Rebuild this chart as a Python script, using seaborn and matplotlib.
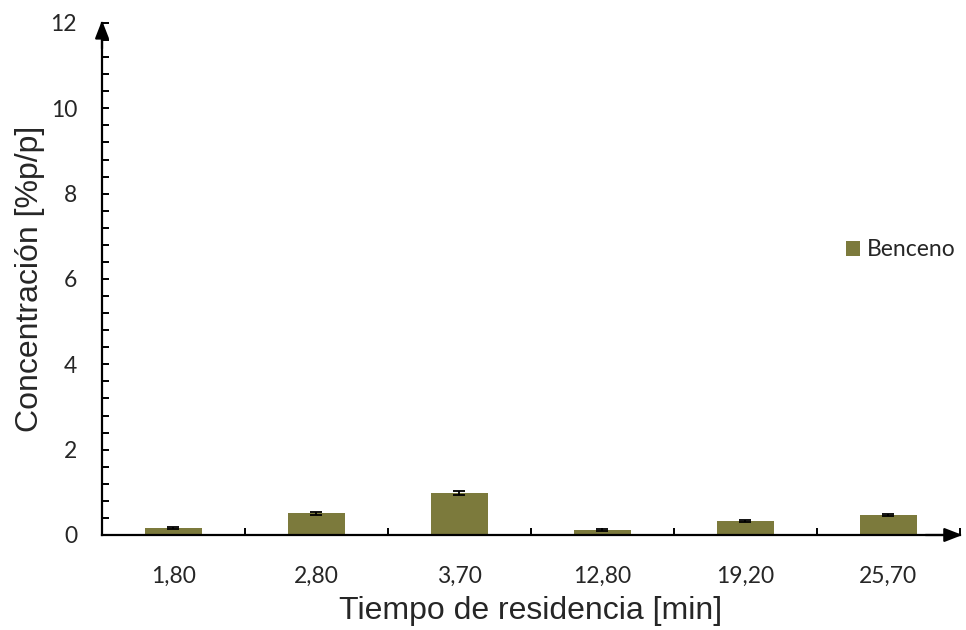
import matplotlib
matplotlib.use("Agg")
import matplotlib.pyplot as plt
from matplotlib.ticker import MultipleLocator, FixedLocator
import seaborn as sns
import pandas as pd
import numpy as np

# Residence times (categories) and benzene concentration with its deviation
tiempos = ["1,80", "2,80", "3,70", "12,80", "19,20", "25,70"]
benceno = [0.17, 0.51, 0.98, 0.11, 0.33, 0.47]
benceno_err = [0.02, 0.03, 0.05, 0.02, 0.02, 0.03]
y_ticks = [0, 2, 4, 6, 8, 10, 12]

color_barra = "#7C7A3C"

sns.set_theme(style="white")
plt.rcParams["font.family"] = ["Lato", "DejaVu Sans"]

df = pd.DataFrame({"Tiempo": tiempos, "Concentracion": benceno})

fig = plt.figure(figsize=(9.66, 6.30), dpi=100)
ax = fig.add_axes([0.1056, 0.1508, 0.888, 0.8127])

sns.barplot(data=df, x="Tiempo", y="Concentracion", color=color_barra,
            width=0.4, saturation=1, errorbar=None, ax=ax,
            label="Benceno", edgecolor="none")

xs = np.arange(len(tiempos))
ax.errorbar(xs, benceno, yerr=benceno_err, fmt="none", ecolor="black",
            elinewidth=1.3, capsize=4.3, capthick=1.3, zorder=5)

ax.set_xlim(-0.5, len(tiempos) - 0.5)
ax.set_ylim(0, 12)
ax.yaxis.set_major_locator(FixedLocator(y_ticks))
ax.yaxis.set_minor_locator(MultipleLocator(0.4))
ax.xaxis.set_minor_locator(FixedLocator(np.arange(-0.5, len(tiempos), 1.0)))

for s in ["top", "right"]:
    ax.spines[s].set_visible(False)
for s in ["left", "bottom"]:
    ax.spines[s].set_linewidth(1.6)
    ax.spines[s].set_color("black")

ax.tick_params(axis="y", which="both", direction="in", length=5, width=1.4,
               color="black", left=True, labelsize=16.5, pad=18)
ax.tick_params(axis="x", which="both", direction="in", length=5, width=1.4,
               color="black", bottom=True, labelsize=16.5, pad=22)

ax.set_xlabel("Tiempo de residencia [min]", fontsize=23,
              family=["Liberation Sans", "DejaVu Sans"], labelpad=7)
ax.set_ylabel("Concentración [%p/p]", fontsize=23,
              family=["Liberation Sans", "DejaVu Sans"], labelpad=4)

# Axis arrows
arrow = dict(arrowstyle="-|>,head_length=0.9,head_width=0.35", color="black",
             lw=1.6, shrinkA=0, shrinkB=0)
ax.annotate("", xy=(0, 1.005), xytext=(0, 0.95), xycoords="axes fraction",
            arrowprops=arrow, annotation_clip=False)
ax.annotate("", xy=(1.003, 0), xytext=(0.96, 0), xycoords="axes fraction",
            arrowprops=arrow, annotation_clip=False)

leg = ax.legend(loc="center left", bbox_to_anchor=(0.857, 0.557), frameon=False,
                fontsize=16.5, handlelength=0.6, handleheight=0.6,
                handletextpad=0.3, borderaxespad=0)

fig.savefig("out.png", dpi=100)
